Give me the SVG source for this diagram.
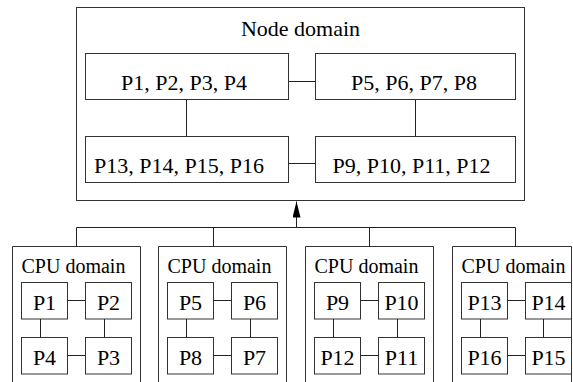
<svg xmlns="http://www.w3.org/2000/svg" width="573" height="382" viewBox="0 0 573 382" font-family="'Liberation Serif', 'DejaVu Serif', 'Times New Roman', serif">
<style>
.b{fill:#fff;stroke:#333;stroke-width:1}
.o{fill:none;stroke:#333;stroke-width:1}
.l{fill:none;stroke:#222;stroke-width:1}
.t22{font-size:22px;font-family:'Liberation Serif','DejaVu Serif',serif;fill:#000}
.t20{font-size:20px;font-family:'Liberation Serif','DejaVu Serif',serif;fill:#000}
.c{text-anchor:middle}
</style>
<defs>
<marker id="ah" markerWidth="16" markerHeight="8" refX="16" refY="4" orient="auto" markerUnits="userSpaceOnUse" viewBox="0 0 16 8">
<path d="M0,0 L16,4 L0,8 Z" fill="#000"/>
</marker>
</defs>
<rect width="573" height="382" fill="#fff"/>
<g id="node-domain">
<rect class="b" x="76.5" y="7.5" width="448" height="193"/>
<text class="t22 c" x="300.5" y="36">Node domain</text>
</g>
<g id="nd-p1-4">
<rect class="b" x="85.5" y="53.5" width="203" height="46"/>
<text class="t22 c" x="184" y="90">P1, P2, P3, P4</text>
</g>
<g id="nd-p5-8">
<rect class="b" x="315.5" y="53.5" width="200" height="46"/>
<text class="t22 c" x="414" y="90">P5, P6, P7, P8</text>
</g>
<g id="nd-p13-16">
<rect class="b" x="85.5" y="136.5" width="203" height="46"/>
<text class="t22 c" x="179" y="173">P13, P14, P15, P16</text>
</g>
<g id="nd-p9-12">
<rect class="b" x="315.5" y="136.5" width="200" height="46"/>
<text class="t22 c" x="411.5" y="173">P9, P10, P11, P12</text>
</g>

<g id="cpu1">
<path class="o" d="M12.5,382 V246.5 H140.5 V382"/>
<text class="t20" x="21.5" y="273">CPU domain</text>
</g>
<g id="cpu2">
<path class="o" d="M158.5,382 V246.5 H286.5 V382"/>
<text class="t20" x="167.5" y="273">CPU domain</text>
</g>
<g id="cpu3">
<path class="o" d="M305.5,382 V246.5 H433.5 V382"/>
<text class="t20" x="314.5" y="273">CPU domain</text>
</g>
<g id="cpu4">
<path class="o" d="M452.5,382 V246.5 H571.5 V382"/>
<text class="t20" x="461.5" y="273">CPU domain</text>
</g>

<g id="p1"><rect class="b" x="21.5" y="282.5" width="46" height="36.5"/><text class="t22 c" x="44.5" y="310">P1</text></g>
<g id="p2"><rect class="b" x="85.5" y="282.5" width="46" height="36.5"/><text class="t22 c" x="108.5" y="310">P2</text></g>
<g id="p4"><rect class="b" x="21.5" y="337.5" width="46" height="36.5"/><text class="t22 c" x="44.5" y="365">P4</text></g>
<g id="p3"><rect class="b" x="85.5" y="337.5" width="46" height="36.5"/><text class="t22 c" x="108.5" y="365">P3</text></g>

<g id="p5"><rect class="b" x="167.5" y="282.5" width="46" height="36.5"/><text class="t22 c" x="190.5" y="310">P5</text></g>
<g id="p6"><rect class="b" x="231.5" y="282.5" width="46" height="36.5"/><text class="t22 c" x="254.5" y="310">P6</text></g>
<g id="p8"><rect class="b" x="167.5" y="337.5" width="46" height="36.5"/><text class="t22 c" x="190.5" y="365">P8</text></g>
<g id="p7"><rect class="b" x="231.5" y="337.5" width="46" height="36.5"/><text class="t22 c" x="254.5" y="365">P7</text></g>

<g id="p9"><rect class="b" x="314.5" y="282.5" width="46" height="36.5"/><text class="t22 c" x="337.5" y="310">P9</text></g>
<g id="p10"><rect class="b" x="378.5" y="282.5" width="46" height="36.5"/><text class="t22 c" x="401.5" y="310">P10</text></g>
<g id="p12"><rect class="b" x="314.5" y="337.5" width="46" height="36.5"/><text class="t22 c" x="337.5" y="365">P12</text></g>
<g id="p11"><rect class="b" x="378.5" y="337.5" width="46" height="36.5"/><text class="t22 c" x="401.5" y="365">P11</text></g>

<g id="p13"><rect class="b" x="461.5" y="282.5" width="46" height="36.5"/><text class="t22 c" x="484.5" y="310">P13</text></g>
<g id="p14"><rect class="b" x="525.5" y="282.5" width="46" height="36.5"/><text class="t22 c" x="548.5" y="310">P14</text></g>
<g id="p16"><rect class="b" x="461.5" y="337.5" width="46" height="36.5"/><text class="t22 c" x="484.5" y="365">P16</text></g>
<g id="p15"><rect class="b" x="525.5" y="337.5" width="46" height="36.5"/><text class="t22 c" x="548.5" y="365">P15</text></g>

<g id="connectors">
<path class="l" d="M288.5,81.5 H315.5 M288.5,163.5 H315.5 M186.5,99.5 V136.5 M415.5,99.5 V136.5"/>
<path class="l" d="M76.5,246.5 V227.5 H515.5 V246.5 M213.5,227.5 V246.5 M369.5,227.5 V246.5"/>
<path class="l" d="M296.5,227.5 V201.5" marker-end="url(#ah)"/>
<path class="l" d="M67.5,300.5 H85.5 M67.5,355.5 H85.5 M40.5,319 V337.5 M104.5,319 V337.5"/>
<path class="l" d="M213.5,300.5 H231.5 M213.5,355.5 H231.5 M186.5,319 V337.5 M250.5,319 V337.5"/>
<path class="l" d="M360.5,300.5 H378.5 M360.5,355.5 H378.5 M333.5,319 V337.5 M397.5,319 V337.5"/>
<path class="l" d="M507.5,300.5 H525.5 M507.5,355.5 H525.5 M480.5,319 V337.5 M543.5,319 V337.5"/>
</g>
</svg>
